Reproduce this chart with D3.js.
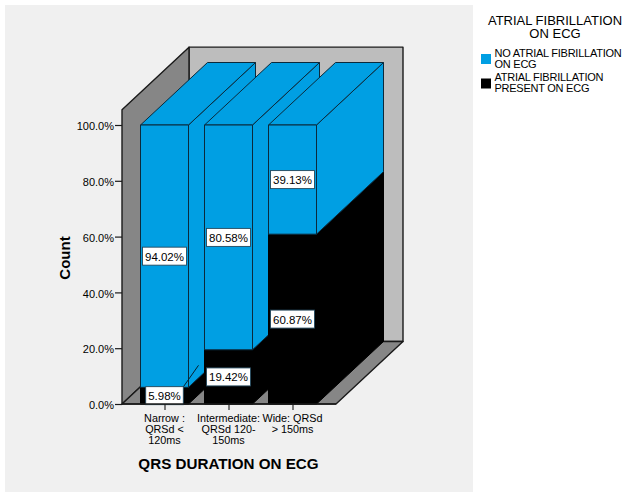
<!DOCTYPE html>
<html>
<head>
<meta charset="utf-8">
<script src="https://cdn.jsdelivr.net/npm/d3@7"></script>
<style>
  html, body { margin: 0; padding: 0; background: #fff; }
  svg { display: block; }
  text { font-family: "Liberation Sans", Arial, sans-serif; fill: #000; }
</style>
</head>
<body>
<svg id="chart" width="623" height="492"></svg>
<script>
// Percentage of cases in each QRS duration group, stacked bottom to top
const categories = [
  ["Narrow :", "QRSd <", "120ms"],
  ["Intermediate:", "QRSd 120-", "150ms"],
  ["Wide: QRSd", "> 150ms"]
];
const afPresent = [5.98, 19.42, 60.87];
const noAf = [94.02, 80.58, 39.13];
const yTicks = [0, 20, 40, 60, 80, 100];
const legendTitle = ["ATRIAL FIBRILLATION", "ON ECG"];
const legendEntries = [
  ["NO ATRIAL FIBRILLATION", "ON ECG"],
  ["ATRIAL FIBRILLATION", "PRESENT ON ECG"]
];

const BLUE = "#009fe3", BLACK = "#000", INK = "#1a1a1a";
const depth = { dx: 67, dy: -62.5 };

const svg = d3.select("#chart");
const y = d3.scaleLinear().domain([0, 100]).range([404, 125]);
const x = d3.scaleBand()
  .domain(d3.range(categories.length))
  .range([132.5, 324.5])
  .paddingInner(0.25)
  .paddingOuter(0.125);

const yTop = y(105.5);
const xLeft = 122, xRight = 336;
const poly = pts => "M" + pts.map(p => p.join(",")).join("L") + "Z";
const back = (px, py) => [px + depth.dx, py + depth.dy];

// Panel behind the plot
svg.append("rect").attr("x", 5).attr("y", 5).attr("width", 468).attr("height", 487).attr("fill", "#f0f0f0");

// Box walls: back, left side and floor
const walls = svg.append("g").attr("stroke", INK).attr("stroke-width", 1.4).attr("stroke-linejoin", "round");
walls.append("path").attr("fill", "#bdbdbd")
  .attr("d", poly([back(xLeft, yTop), back(xRight, yTop), back(xRight, y(0)), back(xLeft, y(0))]));
walls.append("path").attr("fill", "#868686")
  .attr("d", poly([[xLeft, yTop], back(xLeft, yTop), back(xLeft, y(0)), [xLeft, y(0)]]));
walls.append("path").attr("fill", "#868686")
  .attr("d", poly([[xLeft, y(0)], back(xLeft, y(0)), back(xRight, y(0)), [xRight, y(0)]]));

// One stacked prism per category; later bars sit in front of the side faces of earlier ones
const bars = svg.append("g").attr("stroke-linejoin", "round");
categories.forEach((_, i) => {
  const x0 = x(i), x1 = x0 + x.bandwidth();
  const segments = [
    { from: 0, to: afPresent[i], fill: BLACK },
    { from: afPresent[i], to: afPresent[i] + noAf[i], fill: BLUE }
  ];
  segments.forEach(s => {
    const yb = y(s.from), yt = y(s.to);
    const g = bars.append("g").attr("fill", s.fill).attr("stroke", s.fill === BLUE ? "#0b2a3c" : "#000").attr("stroke-width", 1);
    g.append("path").attr("d", poly([[x1, yb], back(x1, yb), back(x1, yt), [x1, yt]]));
    g.append("path").attr("d", poly([[x0, yt], [x1, yt], back(x1, yt), back(x0, yt)]));
    g.append("path").attr("d", poly([[x0, yb], [x1, yb], [x1, yt], [x0, yt]]));
  });
});

// Leader line beside the smallest segment
const leaderX = x(0) + x.bandwidth() - 5.5;
svg.append("line")
  .attr("x1", leaderX).attr("y1", y(afPresent[0]))
  .attr("x2", leaderX + 15.5).attr("y2", y(afPresent[0]) - 22)
  .attr("stroke", "#06202e").attr("stroke-width", 1);

// Boxed value labels centred on each front face
function valueLabel(cx, cy, value) {
  const g = svg.append("g");
  const t = g.append("text").attr("x", cx).attr("y", cy + 4.5)
    .attr("text-anchor", "middle").attr("font-size", 11.5).text(value.toFixed(2) + "%");
  const w = t.node().getComputedTextLength() + 5;
  g.insert("rect", "text").attr("x", cx - w / 2).attr("y", cy - 9).attr("width", w).attr("height", 18)
    .attr("fill", "#fff").attr("stroke", "#24485c").attr("stroke-width", 0.9);
}
categories.forEach((_, i) => {
  const cx = x(i) + x.bandwidth() / 2;
  valueLabel(cx, y(afPresent[i] / 2), afPresent[i]);
  valueLabel(cx, y(afPresent[i] + noAf[i] / 2), noAf[i]);
});

// Axes
const yAxis = d3.axisLeft(y).tickValues(yTicks).tickSize(7).tickPadding(1).tickFormat(d => d.toFixed(1) + "%");
const yG = svg.append("g").attr("transform", `translate(${xLeft},0)`).call(yAxis);
yG.select(".domain").remove();
yG.selectAll("line").attr("stroke", INK).attr("stroke-width", 1.2);
yG.selectAll("text").attr("font-size", 11).attr("font-family", null).attr("fill", "#222").attr("dy", "0.42em");

const xAxis = d3.axisBottom(d3.scalePoint().domain(d3.range(categories.length))
    .range([x(0) + x.bandwidth() / 2, x(2) + x.bandwidth() / 2]))
  .tickSize(6).tickFormat("");
const xG = svg.append("g").attr("transform", `translate(0,${y(0)})`).call(xAxis);
xG.select(".domain").remove();
xG.selectAll("line").attr("stroke", INK).attr("stroke-width", 1.1);
svg.append("line").attr("x1", xLeft).attr("x2", xRight).attr("y1", y(0)).attr("y2", y(0))
  .attr("stroke", INK).attr("stroke-width", 1.4);

categories.forEach((lines, i) => {
  const t = svg.append("text").attr("text-anchor", "middle").attr("font-size", 10.8).attr("fill", "#222");
  lines.forEach((line, k) => {
    t.append("tspan").attr("x", x(i) + x.bandwidth() / 2).attr("y", 422 + k * 11).text(line);
  });
});

// Axis titles
svg.append("text").attr("x", 228.5).attr("y", 468.5).attr("text-anchor", "middle")
  .attr("font-size", 15.2).attr("font-weight", "bold").text("QRS DURATION ON ECG");
svg.append("text").attr("transform", "translate(69.5,258) rotate(-90)").attr("text-anchor", "middle")
  .attr("font-size", 15).attr("font-weight", "bold").text("Count");

// Legend
legendTitle.forEach((line, k) => {
  svg.append("text").attr("x", 555).attr("y", 24.5 + k * 13.5).attr("text-anchor", "middle")
    .attr("font-size", 13).text(line);
});
[BLUE, BLACK].forEach((color, k) => {
  const top = 53 + k * 24.5;
  svg.append("rect").attr("x", 481).attr("y", top + 1).attr("width", 10).attr("height", 10).attr("fill", color);
  legendEntries[k].forEach((line, j) => {
    svg.append("text").attr("x", 494.5).attr("y", top + 4 - k * 1 + j * 11)
      .attr("font-size", 11).attr("letter-spacing", -0.25).text(line);
  });
});
</script>
</body>
</html>
